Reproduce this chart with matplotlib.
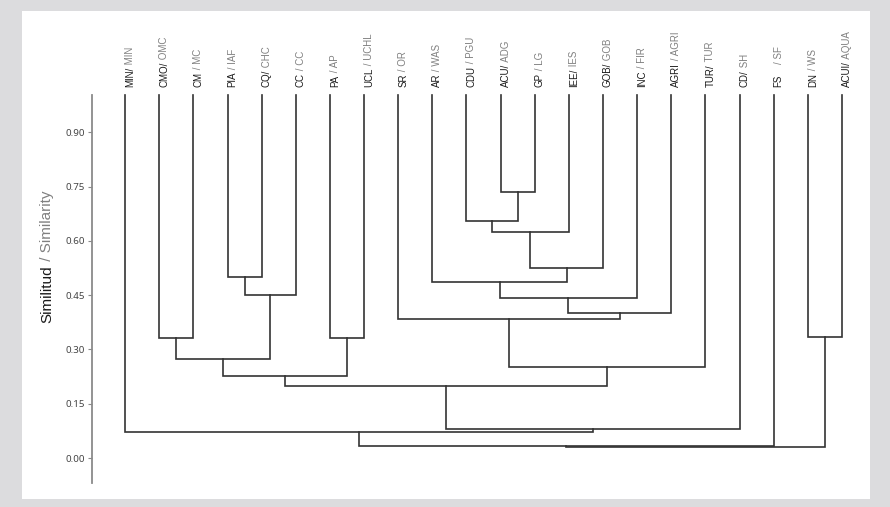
import numpy as np
import matplotlib
matplotlib.use("Agg")
import matplotlib.pyplot as plt
from matplotlib import transforms

# leaf labels, left to right (Spanish / English)
labels = ["MIN/ MIN", "CMO/ OMC", "CM / MC", "PIA / IAF", "CQ/ CHC", "CC / CC",
          "PA / AP", "UCL / UCHL", "SR / OR", "AR / WAS", "CDU / PGU", "ACU/ ADG",
          "GP / LG", "IEE/ IES", "GOB/ GOB", "INC / FIR", "AGRI / AGRI", "TUR/ TUR",
          "CD/ SH", "FS    / SF", "DN / WS", "ACUI/ AQUA"]

# merges: (left node, right node, similarity); new nodes numbered from len(labels)
merge_left = [11, 10, 23, 24, 3, 26, 9, 28, 29, 8, 1, 6, 20, 32, 31, 35, 37, 38, 0, 40, 41]
merge_right = [12, 22, 13, 14, 4, 5, 25, 15, 16, 30, 2, 7, 21, 27, 17, 33, 36, 18, 39, 19, 34]
merge_sim = [0.735, 0.656, 0.624, 0.524, 0.501, 0.450, 0.487, 0.443, 0.400, 0.383,
             0.333, 0.333, 0.335, 0.273, 0.2505, 0.2265, 0.200, 0.079, 0.0727, 0.034, 0.031]

yticks = [0.00, 0.15, 0.30, 0.45, 0.60, 0.75, 0.90]

n = len(labels)
top = 1.003

fig = plt.figure(figsize=(8.9, 5.07), dpi=100)
fig.patch.set_facecolor("#dcdcde")
panel = plt.Rectangle((22 / 890, 1 - 499 / 507), (870 - 22) / 890, (499 - 11) / 507,
                      transform=fig.transFigure, facecolor="white", edgecolor="none",
                      zorder=-10)
fig.patches.append(panel)

ax = fig.add_axes([92 / 890, 1 - 482.7 / 507, (859 - 92) / 890, (482.7 - 95) / 507])
ax.set_facecolor("none")
ax.set_zorder(5)

lc = "#333333"
lw = 1.2

# node positions
xpos = {i: float(i) for i in range(n)}
ypos = {i: top for i in range(n)}
for k, (a, b, s) in enumerate(zip(merge_left, merge_right, merge_sim)):
    node = n + k
    ax.plot([xpos[a], xpos[a], xpos[b], xpos[b]], [ypos[a], s, s, ypos[b]],
            color=lc, lw=lw, solid_joinstyle="miter", clip_on=False)
    xpos[node] = (xpos[a] + xpos[b]) / 2
    ypos[node] = s

ax.set_xlim(-0.97, n - 0.5)
ax.set_ylim(-0.068, top)

ax.spines[["top", "right", "bottom"]].set_visible(False)
ax.spines["left"].set_color("#8a8a8a")
ax.spines["left"].set_linewidth(1.3)
ax.set_xticks([])
ax.set_yticks(yticks)
ax.set_yticklabels([f"{v:.2f}" for v in yticks], fontsize=7, color="#444444",
                   family="Noto Sans")
ax.tick_params(axis="y", length=3, width=0.8, color="#8a8a8a", pad=2)

# two-colour rotated leaf labels
off = transforms.offset_copy(ax.transData, fig=fig, x=5, y=8, units="dots")
for i, lab in enumerate(labels):
    es, en = lab.split("/", 1)
    if es.endswith(" "):
        black = es.rstrip()
        grey = es[len(black):] + "/ " + en.strip()
    else:
        black = es + "/"
        grey = " " + en.strip()
    t1 = ax.text(i, top, black, rotation=90, ha="center", va="bottom", fontsize=7,
                 color="#1a1a1a", family="Liberation Sans", transform=off, clip_on=False)
    ax.annotate(grey, xy=(0.5, 1), xycoords=t1, rotation=90,
                ha="center", va="bottom", fontsize=7, color="#808080",
                family="Liberation Sans", annotation_clip=False)

# y label in two colours
y1 = ax.text(47 / 890, 1 - 323 / 507, "Similitud", rotation=90, ha="center", va="bottom",
             fontsize=11, color="#1a1a1a", family="Liberation Sans",
             transform=fig.transFigure, clip_on=False)
ax.annotate(" / Similarity", xy=(0.5, 1), xycoords=y1, rotation=90, ha="center",
            va="bottom", fontsize=11, color="#808080", family="Liberation Sans",
            annotation_clip=False)

fig.savefig("out.png", dpi=100, facecolor=fig.get_facecolor())
